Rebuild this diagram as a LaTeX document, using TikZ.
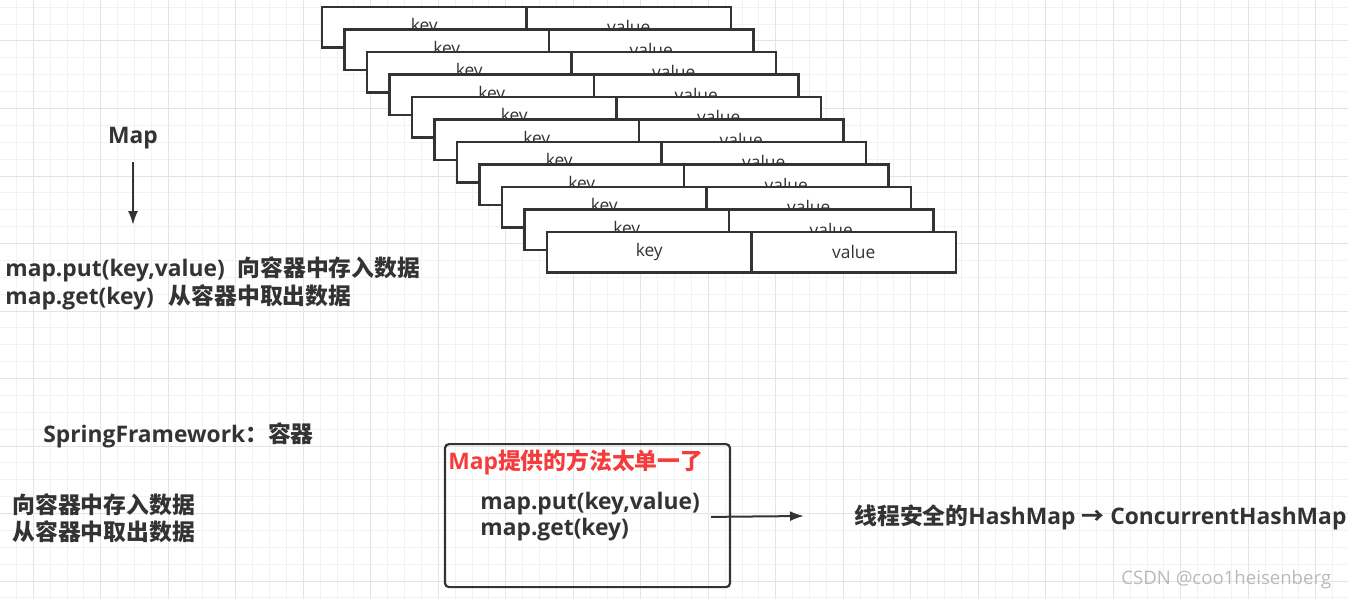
\documentclass[tikz,border=0pt]{standalone}
\usepackage{fontspec}
\setmainfont{Open Sans}
\newfontfamily\cjk{Noto Sans CJK SC}
\usepackage{xcolor}
\usetikzlibrary{arrows.meta}
\usetikzlibrary{positioning}
\definecolor{ink}{HTML}{333333}
\definecolor{alert}{HTML}{F53C3C}
\definecolor{gridminor}{HTML}{F2F2F2}
\definecolor{gridmajor}{HTML}{E4E4E4}
\tikzset{> = {Latex[length=7pt,width=5pt]}}
\tikzset{
	txt/.style={inner sep=0pt, anchor=west, align=left, text=ink, font=\fontsize{11.4}{14}\selectfont\bfseries},
	cjktxt/.style={txt, font=\cjk\fontsize{11.4}{13.5}\selectfont\bfseries},
	kv/.style={draw=ink, line width=1.2pt, fill=white, minimum width=102.25pt, minimum height=20.25pt,
		inner sep=0pt, outer sep=0pt, text=ink, font=\fontsize{8.7}{10}\selectfont},
	panel/.style={draw=ink, line width=1.1pt, rounded corners=2pt, minimum width=142.5pt, minimum height=71.5pt},
	arr/.style={->, draw=ink, line width=1pt}
}

\begin{document}
\begin{tikzpicture}[x=0.5pt, y=-0.5pt]
	\useasboundingbox (0,0) rectangle (1348,599);
	% grid paper
	\foreach \i in {0,...,80} \draw[gridminor, line width=0.5pt] (-0.45+16.875*\i,0)--++(0,599);
	\foreach \j in {0,...,35} \draw[gridminor, line width=0.5pt] (0,7.25+16.875*\j)--++(1348,0);
	\foreach \i in {1,...,20} \draw[gridmajor, line width=0.5pt] (-34.2+67.5*\i,0)--++(0,599);
	\foreach \j in {0,...,8} \draw[gridmajor, line width=0.5pt] (0,41+67.5*\j)--++(1348,0);
	% stacked entries
	\node[kv, anchor=north west] (k1) at (322,7) {key};     \node[kv, right=0pt of k1] (v1) {value};
	\node[kv, anchor=north west] (k2) at (344.5,29.5) {key}; \node[kv, right=0pt of k2] (v2) {value};
	\node[kv, anchor=north west] (k3) at (367,52) {key};    \node[kv, right=0pt of k3] (v3) {value};
	\node[kv, anchor=north west] (k4) at (389.5,74.5) {key}; \node[kv, right=0pt of k4] (v4) {value};
	\node[kv, anchor=north west] (k5) at (412,97) {key};    \node[kv, right=0pt of k5] (v5) {value};
	\node[kv, anchor=north west] (k6) at (434.5,119.5) {key}; \node[kv, right=0pt of k6] (v6) {value};
	\node[kv, anchor=north west] (k7) at (457,142) {key};   \node[kv, right=0pt of k7] (v7) {value};
	\node[kv, anchor=north west] (k8) at (479.5,164.5) {key}; \node[kv, right=0pt of k8] (v8) {value};
	\node[kv, anchor=north west] (k9) at (502,187) {key};   \node[kv, right=0pt of k9] (v9) {value};
	\node[kv, anchor=north west] (k10) at (524.5,209.5) {key}; \node[kv, right=0pt of k10] (v10) {value};
	\node[kv, anchor=north west] (k11) at (547,232) {key};  \node[kv, right=0pt of k11] (v11) {value};
	% Map and its two methods
	\node[txt, anchor=center] (map) at (133,138) {Map};
	\coordinate (maptip) at (133,225);
	\draw[arr, shorten <=6.5pt] (map.south)--(maptip);
	\node[txt] (mapapi) at (5,283) {map.put(key,value)\hspace{6.5pt}{\cjk 向容器中存入数据}\\map.get(key)\hspace{7.5pt}{\cjk 从容器中取出数据}};
	\node[txt] (spring) at (43,435) {SpringFramework{\cjk ：容器}};
	\node[cjktxt] (store) at (12,518) {向容器中存入数据\\从容器中取出数据};
	% the box on the right
	\node[panel] (panel) at (587.5,515.6) {};
	\node[txt, text=alert] (limit) at (448,462) {Map{\cjk 提供的方法太单一了}};
	\node[txt, font=\fontsize{11.4}{13}\selectfont\bfseries] (calls) at (480,517) {map.put(key,value)\\map.get(key)};
	\coordinate (hm) at (804,516);
	\draw[arr, shorten <=5.5pt] (calls.east)--(hm);
	\node[txt] (safe) at (854,517) {{\cjk 线程安全的}HashMap {\cjk →} ConcurrentHashMap};
	\node[inner sep=0pt, anchor=west, text=gray!55, font=\fontsize{9.3}{10}\selectfont] (mark) at (1121,580) {CSDN @coo1heisenberg};
\end{tikzpicture}
\end{document}
